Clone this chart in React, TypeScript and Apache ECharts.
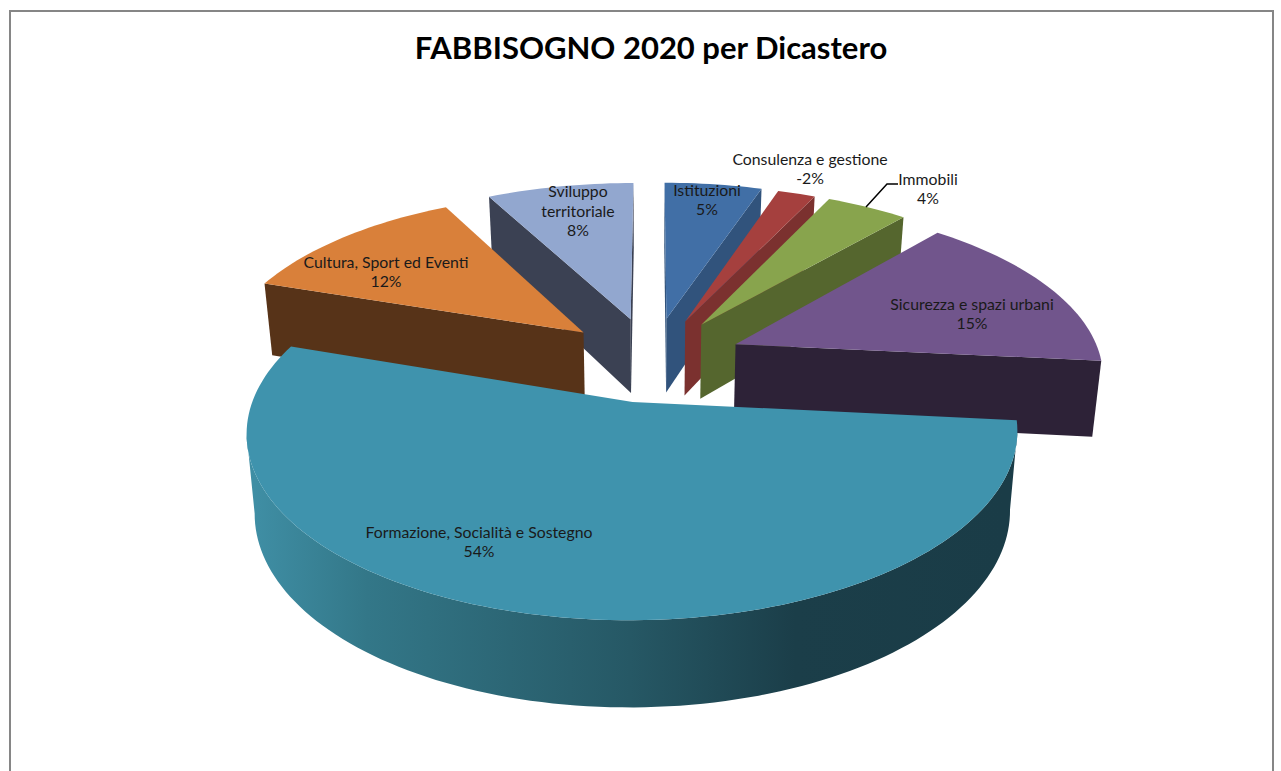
import React, { useEffect, useRef } from "react";
import * as echarts from "echarts";

const categories = ["Istituzioni", "Consulenza e gestione", "Immobili", "Sicurezza e spazi urbani", "Formazione, Socialità e Sostegno", "Cultura, Sport ed Eventi", "Sviluppo territoriale"];
const values = [5.14, -1.99, 4.29, 15.38, 54.07, 12.25, 7.75];
const topColors = ["#416fa6", "#a5403e", "#88a44d", "#71558c", "#3f93ad", "#d9803a", "#92a7cf"];
const wallColors = ["#31537c", "#7b312f", "#55662e", "#2d2237", "#1a3c47", "#573318", "#3b4153"];
const paintOrder = [6, 0, 1, 2, 3, 5, 4];
const labelLines = [["Istituzioni"], ["Consulenza e gestione"], ["Immobili"], ["Sicurezza e spazi urbani"], ["Formazione, Socialità e Sostegno"], ["Cultura, Sport ed Eventi"], ["Sviluppo", "territoriale"]];
const labelPos = [[707, 199], [810, 168], [928, 188], [972, 313], [479, 541], [386, 271], [578, 210]];
const explode = [0.254, 0.251, 0.254, 0.249, 0.246, 0.253, 0.256];

const geo = { cx: 652.18, cy: 359.62, k: 365.86, q: 169.17, p: 0.157 };
const wallVX = 650, wallS = 0.98;

const proj = (X: number, Y: number) => [geo.cx + (geo.k * X) / (1 + geo.p * Y), geo.cy - (geo.q * Y) / (1 + geo.p * Y)];
const total = values.reduce((a, b) => a + Math.abs(b), 0);
const spans = (() => {
  let c = 0;
  return values.map((x) => { const a = (c / total) * 2 * Math.PI; c += Math.abs(x); return [a, (c / total) * 2 * Math.PI]; });
})();
function slicePt(i: number, th: number | null) {
  const m = (spans[i][0] + spans[i][1]) / 2;
  const X = (th === null ? 0 : Math.sin(th)) + explode[i] * Math.sin(m);
  const Y = (th === null ? 0 : Math.cos(th)) + explode[i] * Math.cos(m);
  return { s: proj(X, Y), Y };
}
const lower = (s: number[], Y: number) => [wallVX + (s[0] - wallVX) * wallS, s[1] + 76 - 9 * Y];
const formGradient = () => new echarts.graphic.LinearGradient(255, 0, 1005, 0, [
  { offset: 0, color: "#3f8ea4" }, { offset: 0.15, color: "#337788" }, { offset: 0.5, color: "#265865" }, { offset: 0.72, color: "#1b3e49" }, { offset: 1, color: "#1a3c47" },
], true);

function buildSlice(i: number) {
  const a0 = spans[i][0], a1 = spans[i][1];
  const apex = slicePt(i, null);
  const n = Math.max(4, Math.ceil((a1 - a0) / (Math.PI / 120)));
  const arc = [] as { s: number[]; Y: number }[];
  for (let j = 0; j <= n; j++) arc.push(slicePt(i, a0 + ((a1 - a0) * j) / n));
  const children: any[] = [];
  const poly = (points: number[][], fill: any) => children.push({ type: "polygon", shape: { points }, style: { fill, stroke: "none" }, silent: true });
  const cross = (a: number[], b: number[], c: number[]) => (b[0] - a[0]) * (c[1] - a[1]) - (b[1] - a[1]) * (c[0] - a[0]);
  const radial = (c: { s: number[]; Y: number }, other: { s: number[]; Y: number }) => {
    const down = [apex.s[0], apex.s[1] + 10];
    if (cross(apex.s, c.s, down) * cross(apex.s, c.s, other.s) < 0) poly([apex.s, c.s, lower(c.s, c.Y), lower(apex.s, apex.Y)], wallColors[i]);
  };
  const mid = arc[Math.floor(n / 2)];
  radial(arc[0], mid); radial(arc[n], mid);
  const upper: number[][] = [], low: number[][] = [];
  for (let j = 0; j < n; j++) {
    const a = arc[j].s, b = arc[j + 1].s;
    const vis = cross(a, b, [a[0], a[1] + 10]) * cross(a, b, apex.s) < 0;
    if (vis) { if (!upper.length) { upper.push(a); low.push(lower(a, arc[j].Y)); } upper.push(b); low.push(lower(b, arc[j + 1].Y)); }
  }
  if (upper.length) poly([...upper, ...low.reverse()], i === 4 ? formGradient() : wallColors[i]);
  poly([apex.s, ...arc.map((a) => a.s)], topColors[i]);
  return children;
}

export default function App() {
  const ref = useRef<HTMLDivElement>(null);
  useEffect(() => {
    const chart = echarts.init(ref.current!, null, { renderer: "svg" });
    const font = "Lato";
    const labels: any[] = [];
    values.forEach((v, i) => {
      labelLines[i].concat([`${Math.round(v)}%`]).forEach((t, j, arr) => {
        labels.push({ type: "text", x: labelPos[i][0], y: labelPos[i][1] + (j - (arr.length - 1) / 2) * 19.5, z: 10, style: { text: t, fill: "#1a1a1a", font: `15.8px ${font}`, textAlign: "center", textVerticalAlign: "middle" } });
      });
    });
    chart.setOption({
      animation: false,
      title: { text: "FABBISOGNO 2020 per Dicastero", left: 646, top: 26, textAlign: "center", textStyle: { fontFamily: font, fontWeight: "bold", fontSize: 31, color: "#000" } },
      graphic: [
        { type: "rect", shape: { x: 10, y: 11, width: 1263, height: 800 }, style: { fill: "none", stroke: "#868686", lineWidth: 2 }, z: -1 },
        { type: "polyline", shape: { points: [[898, 184], [887, 184], [866, 207]] }, style: { stroke: "#000", lineWidth: 1.5, fill: "none" }, z: 9 },
        ...labels,
      ],
      series: [{
        type: "custom", coordinateSystem: "none", silent: true,
        data: paintOrder.map((i) => ({ name: categories[i], value: values[i] })),
        renderItem: (params: any) => ({ type: "group", children: buildSlice(paintOrder[params.dataIndex]) }),
      }],
    });
    return () => chart.dispose();
  }, []);
  return <div ref={ref} style={{ position: "fixed", left: 0, top: 0, width: 1281, height: 771, background: "#fff" }} />;
}
